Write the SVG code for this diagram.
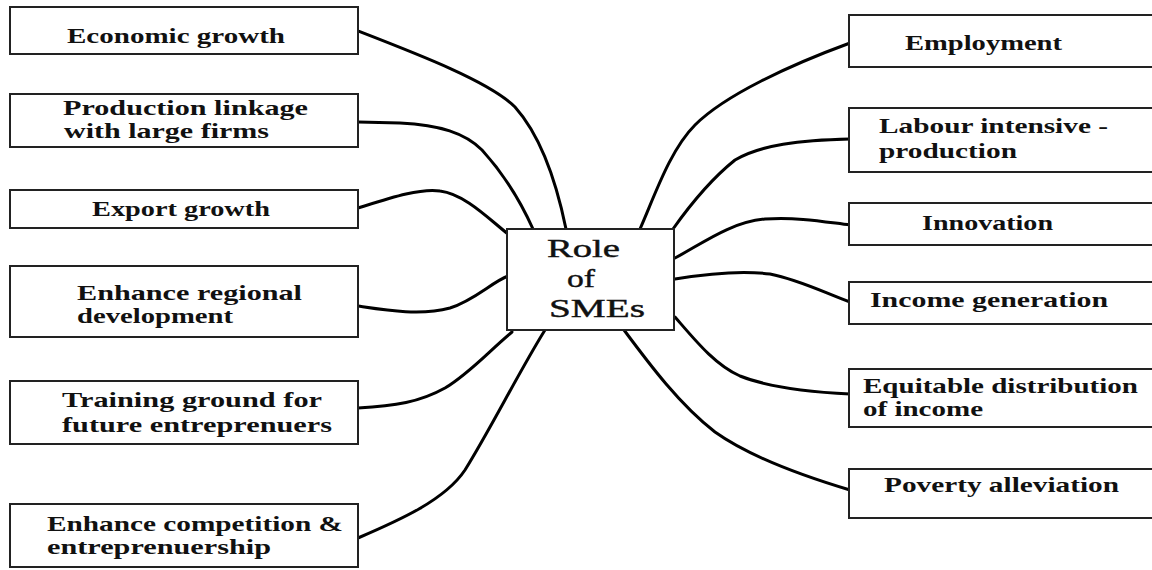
<svg xmlns="http://www.w3.org/2000/svg" width="1152" height="570" viewBox="0 0 1152 570">
<style>
.box{fill:#fff;stroke:#222;stroke-width:2}
.t{font-family:"Liberation Serif","Times New Roman",serif;font-weight:bold;font-size:22px;fill:#111}
.c{font-family:"Liberation Serif","Times New Roman",serif;font-size:25px;fill:#111;stroke:#111;stroke-width:0.4}
.ln{fill:none;stroke:#000;stroke-width:3;stroke-linecap:round}
</style>
<rect width="1152" height="570" fill="#fff"/>
<g id="connectors">
<path class="ln" d="M358,31 C420,55 490,82 515,107 C540,135 556,180 566,229"/>
<path class="ln" d="M358,122 L400,123 C440,125 465,133 482,150 C502,172 520,200 533,229"/>
<path class="ln" d="M358,208 C390,198 420,188 440,191 C465,194 490,220 508,234"/>
<path class="ln" d="M358,306 C385,310 420,316 450,308 C475,300 492,282 508,276"/>
<path class="ln" d="M358,408 C395,406 420,402 445,388 C470,373 490,350 512,332"/>
<path class="ln" d="M358,538 C400,520 445,500 465,470 C490,430 520,370 545,330"/>
<path class="ln" d="M640,229 C655,195 670,150 695,125 C725,95 790,65 850,43"/>
<path class="ln" d="M673,229 C690,205 710,180 735,160 C760,145 800,140 850,139"/>
<path class="ln" d="M675,258 C700,245 730,222 765,219 C800,217 825,222 850,225"/>
<path class="ln" d="M675,279 C705,274 740,270 770,274 C800,280 825,293 850,302"/>
<path class="ln" d="M675,317 C695,340 715,365 740,376 C770,388 810,392 850,394"/>
<path class="ln" d="M624,330 C650,365 680,405 715,432 C750,457 800,475 850,490"/>
</g>
<g id="center">
<rect class="box" x="507" y="229" width="167" height="101"/>
<text class="c" x="547" y="257" textLength="73" lengthAdjust="spacingAndGlyphs">Role</text>
<text class="c" x="567" y="287" textLength="28" lengthAdjust="spacingAndGlyphs">of</text>
<text class="c" x="549" y="317" textLength="96" lengthAdjust="spacingAndGlyphs">SMEs</text>
</g>
<g id="economic-growth">
<rect class="box" x="10" y="7" width="348" height="47"/>
<text class="t" x="67" y="43" textLength="218" lengthAdjust="spacingAndGlyphs">Economic growth</text>
</g>
<g id="production-linkage">
<rect class="box" x="10" y="94" width="348" height="53"/>
<text class="t" x="63" y="115" textLength="245" lengthAdjust="spacingAndGlyphs">Production linkage</text>
<text class="t" x="64" y="138" textLength="205" lengthAdjust="spacingAndGlyphs">with large firms</text>
</g>
<g id="export-growth">
<rect class="box" x="10" y="190" width="348" height="38"/>
<text class="t" x="92" y="216" textLength="178" lengthAdjust="spacingAndGlyphs">Export growth</text>
</g>
<g id="regional-development">
<rect class="box" x="10" y="266" width="348" height="71"/>
<text class="t" x="77" y="300" textLength="225" lengthAdjust="spacingAndGlyphs">Enhance regional</text>
<text class="t" x="77" y="323" textLength="156" lengthAdjust="spacingAndGlyphs">development</text>
</g>
<g id="training-ground">
<rect class="box" x="10" y="381" width="348" height="63"/>
<text class="t" x="62" y="407" textLength="260" lengthAdjust="spacingAndGlyphs">Training ground for</text>
<text class="t" x="62" y="432" textLength="270" lengthAdjust="spacingAndGlyphs">future entreprenuers</text>
</g>
<g id="competition">
<rect class="box" x="10" y="504" width="348" height="63"/>
<text class="t" x="47" y="531" textLength="296" lengthAdjust="spacingAndGlyphs">Enhance competition &amp;</text>
<text class="t" x="47" y="554" textLength="224" lengthAdjust="spacingAndGlyphs">entreprenuership</text>
</g>
<g id="employment">
<rect class="box" x="849" y="15" width="320" height="52"/>
<text class="t" x="905" y="50" textLength="157" lengthAdjust="spacingAndGlyphs">Employment</text>
</g>
<g id="labour-intensive">
<rect class="box" x="849" y="108" width="320" height="64"/>
<text class="t" x="879" y="133" textLength="229" lengthAdjust="spacingAndGlyphs">Labour intensive -</text>
<text class="t" x="879" y="158" textLength="138" lengthAdjust="spacingAndGlyphs">production</text>
</g>
<g id="innovation">
<rect class="box" x="849" y="203" width="320" height="42"/>
<text class="t" x="922" y="230" textLength="131" lengthAdjust="spacingAndGlyphs">Innovation</text>
</g>
<g id="income-generation">
<rect class="box" x="849" y="282" width="320" height="42"/>
<text class="t" x="870" y="307" textLength="238" lengthAdjust="spacingAndGlyphs">Income generation</text>
</g>
<g id="equitable-distribution">
<rect class="box" x="849" y="369" width="320" height="58"/>
<text class="t" x="863" y="393" textLength="275" lengthAdjust="spacingAndGlyphs">Equitable distribution</text>
<text class="t" x="863" y="416" textLength="120" lengthAdjust="spacingAndGlyphs">of income</text>
</g>
<g id="poverty-alleviation">
<rect class="box" x="849" y="469" width="320" height="49"/>
<text class="t" x="884" y="492" textLength="235" lengthAdjust="spacingAndGlyphs">Poverty alleviation</text>
</g>
</svg>
